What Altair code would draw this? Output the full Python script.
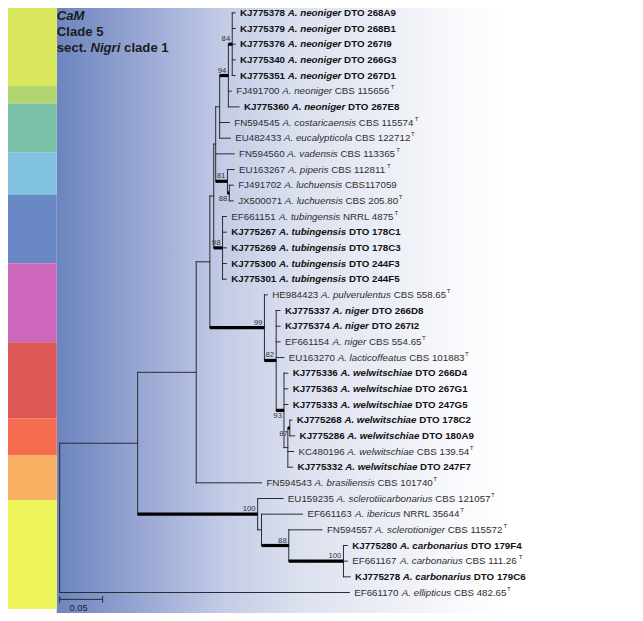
import altair as alt
import pandas as pd

# ---------------- data ----------------
accessions = ["KJ775378", "KJ775379", "KJ775376", "KJ775340", "KJ775351", "FJ491700", "KJ775360",
              "FN594545", "EU482433", "FN594560", "EU163267", "FJ491702", "JX500071", "EF661151",
              "KJ775267", "KJ775269", "KJ775300", "KJ775301", "HE984423", "KJ775337", "KJ775374",
              "EF661154", "EU163270", "KJ775336", "KJ775363", "KJ775333", "KJ775268", "KJ775286",
              "KC480196", "KJ775332", "FN594543", "EU159235", "EF661163", "FN594557", "KJ775280",
              "EF661167", "KJ775278", "EF661170"]
species = ["A. neoniger", "A. neoniger", "A. neoniger", "A. neoniger", "A. neoniger", "A. neoniger",
           "A. neoniger", "A. costaricaensis", "A. eucalypticola", "A. vadensis", "A. piperis",
           "A. luchuensis", "A. luchuensis", "A. tubingensis", "A. tubingensis", "A. tubingensis",
           "A. tubingensis", "A. tubingensis", "A. pulverulentus", "A. niger", "A. niger", "A. niger",
           "A. lacticoffeatus", "A. welwitschiae", "A. welwitschiae", "A. welwitschiae",
           "A. welwitschiae", "A. welwitschiae", "A. welwitschiae", "A. welwitschiae",
           "A. brasiliensis", "A. sclerotiicarbonarius", "A. ibericus", "A. sclerotioniger",
           "A. carbonarius", "A. carbonarius", "A. carbonarius", "A. ellipticus"]
strains = ["DTO 268A9", "DTO 268B1", "DTO 267I9", "DTO 266G3", "DTO 267D1", "CBS 115656", "DTO 267E8",
           "CBS 115574", "CBS 122712", "CBS 113365", "CBS 112811", "CBS117059", "CBS 205.80",
           "NRRL 4875", "DTO 178C1", "DTO 178C3", "DTO 244F3", "DTO 244F5", "CBS 558.65",
           "DTO 266D8", "DTO 267I2", "CBS 554.65", "CBS 101883", "DTO 266D4", "DTO 267G1",
           "DTO 247G5", "DTO 178C2", "DTO 180A9", "CBS 139.54", "DTO 247F7", "CBS 101740",
           "CBS 121057", "NRRL 35644", "CBS 115572", "DTO 179F4", "CBS 111.26", "DTO 179C6",
           "CBS 482.65"]
this_study = [1, 1, 1, 1, 1, 0, 1, 0, 0, 0, 0, 0, 0, 0, 1, 1, 1, 1, 0, 1, 1, 0, 0, 1, 1, 1, 1, 1,
              0, 1, 0, 0, 0, 0, 1, 0, 1, 0]
type_strain = [0, 0, 0, 0, 0, 1, 0, 1, 1, 1, 1, 0, 1, 1, 0, 0, 0, 0, 1, 0, 0, 1, 1, 0, 0, 0, 0, 0,
               1, 0, 1, 1, 1, 1, 0, 1, 0, 1]
# distance of each tip from the root (substitutions / site)
tip_dist = [0.2045, 0.2045, 0.2045, 0.2045, 0.2045, 0.2000, 0.2091, 0.1977, 0.1989, 0.2034,
            0.2034, 0.2023, 0.2023, 0.1943, 0.1943, 0.1943, 0.1943, 0.1943, 0.2420, 0.2568,
            0.2568, 0.2568, 0.2614, 0.2659, 0.2659, 0.2659, 0.2705, 0.2739, 0.2727, 0.2716,
            0.2352, 0.2602, 0.2830, 0.3057, 0.3352, 0.3352, 0.3386, 0.3375]
tip_parent = ["N84", "N84", "N84", "N84", "N84", "N94", "N94", "A", "A", "U", "N81", "N88", "N88",
              "T98", "T98", "T98", "T98", "T98", "N99", "N82", "N82", "N82", "N82", "N93", "N93",
              "N93", "N87", "N87", "Nw", "Nw", "Y", "C1", "C2", "C3", "C4", "C4", "C4", "R"]

node_ids = ["R", "X", "Y", "Z", "W", "U", "A", "N94", "N84", "N81", "N88", "T98", "N99", "N82",
            "N93", "Nw", "N87", "C1", "C2", "C3", "C4"]
node_parent = ["", "R", "X", "Y", "Z", "W", "U", "A", "N94", "U", "N81", "W", "Z", "N99", "N82",
               "N93", "Nw", "X", "C1", "C2", "C3"]
node_dist = [0.0, 0.0909, 0.1591, 0.1750, 0.1795, 0.1818, 0.1864, 0.1966, 0.2011, 0.1955, 0.1977,
             0.1898, 0.2386, 0.2523, 0.2614, 0.2659, 0.2682, 0.2307, 0.2352, 0.2670, 0.3307]
node_support = [0, 0, 0, 0, 0, 0, 0, 94, 84, 81, 88, 98, 99, 82, 93, 0, 87, 100, 0, 88, 100]
support_below = ["N88", "N93", "N87"]

scale_bar_len = 0.05
title_lines = [["CaM"], ["Clade 5"], ["sect. ", "Nigri", " clade 1"]]
title_italic = [[1], [0], [0, 1, 0]]

strip_colors = ["#d9e75c", "#b2d46e", "#7abfa8", "#80c1e0", "#6a87c5", "#cd67bc", "#dd5757",
                "#f66c50", "#f8b162", "#eef55a"]
strip_edges = [-0.311, 4.664, 5.784, 8.893, 11.63, 15.98, 21.02, 25.87, 28.23, 31.09, 38.06]

# ---------------- layout helpers ----------------
IMG_W, IMG_H = 643, 621
W, H = 627, 605
K = W / IMG_W
PX_PER_UNIT = 880.0
ROOT_PX = 53.0
ROW0_PX, ROW_PX = 5.0, 16.08
FS = 10.0
FONT = "Liberation Sans"


def px2d(px):
    return (px - ROOT_PX) / PX_PER_UNIT


def d2px(d):
    return ROOT_PX + d * PX_PER_UNIT


def py2i(py):
    return (py - ROW0_PX) / ROW_PX


AR = {' ': 278, '.': 278, 'A': 667, 'B': 667, 'C': 722, 'D': 722, 'E': 667, 'F': 611, 'G': 778,
      'H': 722, 'I': 278, 'J': 500, 'K': 667, 'L': 556, 'N': 722, 'O': 778, 'R': 722, 'S': 667,
      'T': 611, 'U': 722, 'X': 667, 'M': 833, 'a': 556, 'b': 556, 'c': 500, 'd': 556, 'e': 556,
      'f': 278, 'g': 556, 'h': 556, 'i': 222, 'j': 222, 'k': 500, 'l': 222, 'm': 833, 'n': 556,
      'o': 556, 'p': 556, 'q': 556, 'r': 333, 's': 500, 't': 278, 'u': 556, 'v': 500, 'w': 722,
      'x': 500, 'y': 500, 'z': 500}
AB = {' ': 278, '.': 278, 'A': 722, 'B': 722, 'C': 722, 'D': 722, 'E': 667, 'F': 611, 'G': 778,
      'H': 722, 'I': 278, 'J': 556, 'K': 722, 'L': 611, 'N': 722, 'O': 778, 'R': 722, 'S': 667,
      'T': 611, 'U': 722, 'X': 667, 'M': 833, 'a': 556, 'b': 611, 'c': 556, 'd': 611, 'e': 556,
      'f': 333, 'g': 611, 'h': 611, 'i': 278, 'j': 278, 'k': 556, 'l': 278, 'm': 889, 'n': 611,
      'o': 611, 'p': 611, 'q': 611, 'r': 389, 's': 556, 't': 333, 'u': 611, 'v': 556, 'w': 778,
      'x': 556, 'y': 556, 'z': 500}


def tw(s, bold, fs=FS):
    tab = AB if bold else AR
    return sum(tab.get(c, 556) for c in s) * fs / 1000.0


# ---------------- tree geometry ----------------
ypos = {}
children = {n: [] for n in node_ids}
for i, p in enumerate(tip_parent):
    ypos["t%d" % i] = float(i)
    children[p].append("t%d" % i)
for n, p in zip(node_ids, node_parent):
    if p:
        children[p].append(n)
dist = {n: d for n, d in zip(node_ids, node_dist)}
for i, d in enumerate(tip_dist):
    dist["t%d" % i] = d
parent = {n: p for n, p in zip(node_ids, node_parent)}
for i, p in enumerate(tip_parent):
    parent["t%d" % i] = p
support = {n: s for n, s in zip(node_ids, node_support)}


def node_y(n):
    if n in ypos:
        return ypos[n]
    ys = [node_y(c) for c in children[n]]
    ypos[n] = (min(ys) + max(ys)) / 2.0
    return ypos[n]


for n in node_ids:
    node_y(n)

hrows, vrows, srows = [], [], []
for n, p in parent.items():
    if not p:
        continue
    hrows.append({"x": dist[p], "x2": dist[n], "y": ypos[n], "thick": 1 if support.get(n, 0) else 0})
for n in node_ids:
    ys = [ypos[c] for c in children[n]]
    vrows.append({"x": dist[n], "y": min(ys), "y2": max(ys)})
    if support[n]:
        srows.append({"x": dist[n], "y": ypos[n], "t": str(support[n]),
                      "pos": "below" if n in support_below else "above"})
hdf, vdf, sdf = pd.DataFrame(hrows), pd.DataFrame(vrows), pd.DataFrame(srows)

# ---------------- labels ----------------
lrows, trows = [], []
for i in range(len(accessions)):
    b = bool(this_study[i])
    col = "#111111" if b else "#2e2e2e"
    x0 = d2px(tip_dist[i]) + 5
    x1 = x0 + tw(accessions[i], b) + tw(" ", b)
    x2 = x1 + tw(species[i], b) + tw(" ", b)
    x3 = x2 + tw(strains[i], b)
    lrows.append({"x": px2d(x0), "y": i, "t": accessions[i], "st": "b" if b else "r", "c": col})
    lrows.append({"x": px2d(x1), "y": i, "t": species[i], "st": "bi" if b else "i", "c": col})
    lrows.append({"x": px2d(x2), "y": i, "t": strains[i], "st": "b" if b else "r", "c": col})
    if type_strain[i]:
        trows.append({"x": px2d(x3 + 0.6), "y": i, "t": "T", "c": col})
ldf, tdf = pd.DataFrame(lrows), pd.DataFrame(trows)

TFS = 13.5
title_rows = []
for li, (parts, ital) in enumerate(zip(title_lines, title_italic)):
    xpx = 50.0
    for t, it in zip(parts, ital):
        lead = t[:len(t) - len(t.lstrip())]
        title_rows.append({"x": px2d(xpx + tw(lead, True, TFS)), "y": py2i(12.2 + 16.4 * li),
                           "t": t.strip(), "it": it})
        xpx += tw(t, True, TFS)
titdf = pd.DataFrame(title_rows)

# ---------------- chart ----------------
xs = alt.Scale(domain=[px2d(0), px2d(IMG_W)], range=[0, W], nice=False, zero=False)
ys = alt.Scale(domain=[py2i(0), py2i(IMG_H)], range=[0, H], nice=False, zero=False)


def X(f="x"):
    return alt.X(f + ":Q", scale=xs, axis=None)


def Y(f="y"):
    return alt.Y(f + ":Q", scale=ys, axis=None)


bg = alt.Chart(pd.DataFrame([{"x": px2d(50), "x2": px2d(IMG_W), "y": py2i(0), "y2": py2i(IMG_H)}])).mark_rect(
    fill=alt.Gradient(gradient="linear", x1=0, x2=1, y1=0, y2=0, stops=[
        alt.GradientStop(color="#6c84bf", offset=0),
        alt.GradientStop(color="#96a5d2", offset=0.14),
        alt.GradientStop(color="#b4bee0", offset=0.24),
        alt.GradientStop(color="#c4cce6", offset=0.29),
        alt.GradientStop(color="#dce1ef", offset=0.42),
        alt.GradientStop(color="#eef0f7", offset=0.59),
        alt.GradientStop(color="#f7f8fb", offset=0.675),
        alt.GradientStop(color="#ffffff", offset=0.78),
        alt.GradientStop(color="#ffffff", offset=1)])
).encode(x=X(), x2="x2", y=Y(), y2="y2")

strip_df = pd.DataFrame({"x": px2d(0), "x2": px2d(50), "y": strip_edges[:-1], "y2": strip_edges[1:],
                         "c": strip_colors})
strip = alt.Chart(strip_df).mark_rect().encode(
    x=X(), x2="x2", y=Y(), y2="y2", fill=alt.Fill("c:N", scale=None))

hthin = alt.Chart(hdf).mark_rule(color="#2b2b33", strokeWidth=1, strokeCap="square").encode(
    x=X(), x2="x2", y=Y())
hthick = alt.Chart(hdf).transform_filter("datum.thick == 1").mark_rule(
    color="#000000", strokeWidth=3.2).encode(x=X(), x2="x2", y=Y())
vlines = alt.Chart(vdf).mark_rule(color="#2b2b33", strokeWidth=1, strokeCap="square").encode(
    x=X(), y=Y(), y2="y2")

text_layers = []
for st, fw, fsty in [("r", "normal", "normal"), ("i", "normal", "italic"),
                     ("b", "bold", "normal"), ("bi", "bold", "italic")]:
    text_layers.append(alt.Chart(ldf).transform_filter("datum.st == '%s'" % st).mark_text(
        align="left", baseline="middle", font=FONT, fontSize=FS * K, fontWeight=fw, fontStyle=fsty
    ).encode(x=X(), y=Y(), text="t:N", color=alt.Color("c:N", scale=None)))

sup = alt.Chart(tdf).mark_text(align="left", baseline="middle", font=FONT, fontSize=6.3 * K,
                               dy=-3.8 * K).encode(
    x=X(), y=Y(), text="t:N", color=alt.Color("c:N", scale=None))

sup_above = alt.Chart(sdf).transform_filter("datum.pos == 'above'").mark_text(
    align="right", baseline="alphabetic", font=FONT, fontSize=8 * K, dx=-2, dy=-3, color="#333333"
).encode(x=X(), y=Y(), text="t:N")
sup_below = alt.Chart(sdf).transform_filter("datum.pos == 'below'").mark_text(
    align="right", baseline="top", font=FONT, fontSize=8 * K, dx=-2, dy=2, color="#333333"
).encode(x=X(), y=Y(), text="t:N")

title_layers = []
for it in (0, 1):
    title_layers.append(alt.Chart(titdf).transform_filter("datum.it == %d" % it).mark_text(
        align="left", baseline="alphabetic", font=FONT, fontSize=TFS * K, fontWeight="bold",
        fontStyle="italic" if it else "normal", color="#1c1c1c"
    ).encode(x=X(), y=Y(), text="t:N"))

sb_y = py2i(607)
sb_h = alt.Chart(pd.DataFrame([{"x": 0.0, "x2": scale_bar_len, "y": sb_y}])).mark_rule(
    color="#2b2b33", strokeWidth=1).encode(x=X(), x2="x2", y=Y())
sb_t = alt.Chart(pd.DataFrame([{"x": 0.0, "y": py2i(603.5), "y2": py2i(610.5)},
                               {"x": scale_bar_len, "y": py2i(603.5), "y2": py2i(610.5)}])).mark_rule(
    color="#2b2b33", strokeWidth=1).encode(x=X(), y=Y(), y2="y2")
sb_l = alt.Chart(pd.DataFrame([{"x": scale_bar_len / 2 - 0.003, "y": py2i(616), "t": "0.05"}])).mark_text(
    align="center", baseline="middle", font=FONT, fontSize=9.5 * K, color="#222222"
).encode(x=X(), y=Y(), text="t:N")

chart = alt.layer(bg, strip, hthin, vlines, hthick, *text_layers, sup, sup_above, sup_below,
                  *title_layers, sb_h, sb_t, sb_l).properties(
    width=W, height=H, padding=0, autosize="none"
).configure_view(stroke=None)

chart.save("out.html", embed_options={"renderer": "svg", "actions": False})
